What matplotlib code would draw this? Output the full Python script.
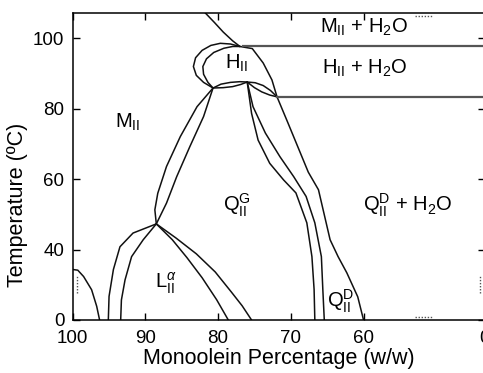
"""
Monoolein / water phase diagram (broken axes: 0-40 C squeezed, 50-0 % squeezed).
Writes out.png
"""
import numpy as np
import matplotlib
matplotlib.use('Agg')
import matplotlib.pyplot as plt

plt.rcParams.update({'font.family': 'Liberation Sans', 'font.size': 13,
                     'mathtext.fontset': 'custom',
                     'mathtext.rm': 'Liberation Sans',
                     'mathtext.it': 'Liberation Sans:italic'})

# phase boundaries, (monoolein %, temperature C)
top_diag = [(82.2, 108.5), (81.8, 107.3), (80.5, 104.5), (79.3, 101.8), (78.0, 99.3), (77.0, 97.7)]
h_outer = [(80.7, 85.9), (82.0, 87.5), (83.0, 89.5), (83.4, 92.0), (83.1, 94.5), (82.2, 96.6),
           (81.0, 98.0), (79.7, 98.6), (78.3, 98.4), (77.0, 97.7)]
h_inner = [(80.7, 85.9), (81.4, 87.5), (82.0, 89.8), (82.1, 92.0), (81.6, 94.2), (80.6, 96.0),
           (79.2, 97.2), (78.0, 97.7), (77.0, 97.7)]
h_right = [(77.0, 97.7), (75.3, 97.1), (73.8, 93.0), (72.6, 88.2), (71.9, 83.4), (70.4, 76.0),
           (69.0, 69.0), (67.6, 62.0), (66.2, 57.0), (65.4, 49.9), (64.6, 42.8), (63.5, 36.0),
           (62.3, 26.8), (60.8, 13.2), (60.0, 0.0)]
h_bot_up = [(80.7, 85.9), (79.6, 87.0), (78.3, 87.5), (77.0, 87.7), (76.0, 87.6)]
h_bot_lo = [(80.7, 85.9), (79.3, 86.0), (78.0, 86.3), (76.9, 86.9), (76.0, 87.6)]
lens_up = [(76.0, 87.6), (74.9, 87.4), (73.8, 86.6), (72.8, 85.2), (71.9, 83.4)]
lens_lo = [(76.0, 87.6), (75.0, 86.0), (74.0, 84.8), (72.9, 83.9), (71.9, 83.4)]
mid_left = [(76.0, 87.6), (75.4, 78.7), (74.5, 71.1), (72.9, 64.5), (71.0, 59.8), (69.3, 56.1),
            (67.8, 47.6), (67.1, 36.0), (66.8, 17.3), (66.7, 0.0)]
mid_right = [(76.0, 87.6), (75.2, 80.6), (73.5, 73.1), (71.5, 66.4), (69.6, 60.7), (67.9, 55.1),
             (66.7, 47.6), (65.8, 36.0), (65.6, 17.3), (65.4, 0.0)]
q_left = [(80.7, 85.9), (82.9, 80.6), (85.2, 72.1), (87.1, 63.6), (88.3, 56.0), (88.7, 51.3),
          (88.5, 47.3)]
q_right = [(80.7, 85.9), (82.0, 77.8), (83.9, 69.2), (85.7, 60.7), (87.1, 53.2), (88.0, 49.4),
           (88.5, 47.3)]
la_outer = [(88.5, 47.3), (91.7, 44.7), (93.5, 40.8), (94.4, 28.7), (95.0, 13.4), (95.1, 0.0)]
la_inner = [(88.5, 47.3), (90.3, 42.8), (91.9, 36.0), (92.8, 22.8), (93.3, 11.4), (93.4, 0.0)]
la_right = [(88.5, 47.3), (85.8, 43.3), (83.0, 37.6), (80.4, 27.3), (78.2, 16.0), (76.7, 8.1),
            (75.4, 0.0)]
la_mid = [(88.5, 47.3), (86.3, 42.8), (84.3, 35.5), (82.2, 24.0), (80.2, 11.5), (78.6, 0.0)]
corner = [(100.0, 28.7), (99.3, 28.3), (98.5, 24.7), (97.4, 17.2), (96.7, 7.8), (96.3, 0.0)]
curves = [top_diag, h_outer, h_inner, h_right, h_bot_up, h_bot_lo, lens_up, lens_lo,
          mid_left, mid_right, q_left, q_right, la_outer, la_inner, la_right, la_mid, corner]

# water-excess tie lines
tie_temps = [97.7, 83.4]
tie_start = [76.6, 71.9]

labels = ['M$_{\\rm II}$', 'H$_{\\rm II}$', 'M$_{\\rm II}$ + H$_2$O', 'H$_{\\rm II}$ + H$_2$O',
          'Q$_{\\rm II}^{\\rm G}$', 'Q$_{\\rm II}^{\\rm D}$ + H$_2$O', 'L$_{\\rm II}^{\\alpha}$',
          'Q$_{\\rm II}^{\\rm D}$']
label_x = [92.5, 77.5, 59.9, 59.8, 77.4, 54.0, 87.2, 63.1]
label_t = [76.2, 93.0, 103.2, 91.6, 52.6, 52.6, 21.0, 10.5]

x_ticks = [100, 90, 80, 70, 60, 0]
t_ticks = [0, 40, 60, 80, 100]


def fx(x):
    x = np.asarray(x, float)
    return np.where(x >= 50, x, 43.3 + x * 6.7 / 50)


def fx_inv(v):
    v = np.asarray(v, float)
    return np.where(v >= 50, v, (v - 43.3) * 50 / 6.7)


def ft(t):
    t = np.asarray(t, float)
    return np.where(t >= 40, t, 20 + t / 2)


def ft_inv(v):
    v = np.asarray(v, float)
    return np.where(v >= 40, v, (v - 20) * 2)


fig = plt.figure(figsize=(4.83, 3.73), dpi=100)
ax = fig.add_axes([0.1505, 0.1421, 0.8536, 0.8239])
ax.set_xscale('function', functions=(fx, fx_inv))
ax.set_yscale('function', functions=(ft, ft_inv))
ax.set_xlim(100, 0)
ax.set_ylim(0, 107.3)

for c in curves:
    xs, ts = zip(*c)
    ax.plot(xs, ts, color='#111111', lw=1.1, solid_capstyle='round')
for t, x0 in zip(tie_temps, tie_start):
    ax.plot([x0, 0], [t, t], color='#555555', lw=1.6)

for s, x, t in zip(labels, label_x, label_t):
    ax.text(x, t, s, ha='center', va='center', fontsize=14.5)

# axis-break dots
dots = dict(color='#555555', lw=1.0, ls=(0, (1, 1.2)), transform=ax.transAxes, clip_on=False)
ax.plot([0.0104, 0.0104], [0.088, 0.146], **dots)
ax.plot([0.988, 0.988], [0.088, 0.146], **dots)
ax.plot([0.830, 0.874], [0.989, 0.989], **dots)
ax.plot([0.830, 0.874], [0.0098, 0.0098], **dots)

ax.set_xticks(x_ticks)
ax.set_xticklabels([str(v) for v in x_ticks])
ax.set_yticks(t_ticks)
ax.set_yticklabels([str(v) for v in t_ticks])
ax.minorticks_off()
ax.tick_params(direction='in', length=5, width=1, top=True, right=True, labelsize=13.5)
ax.tick_params(axis='x', pad=7)
ax.tick_params(axis='y', pad=6)
for sp in ax.spines.values():
    sp.set_linewidth(1.1)

ax.set_xlabel('Monoolein Percentage (w/w)', fontsize=15.5, labelpad=1)
ax.set_ylabel('Temperature (ºC)', fontsize=15.5)
ax.yaxis.set_label_coords(-0.108, 0.374)

fig.savefig('out.png', dpi=100)
